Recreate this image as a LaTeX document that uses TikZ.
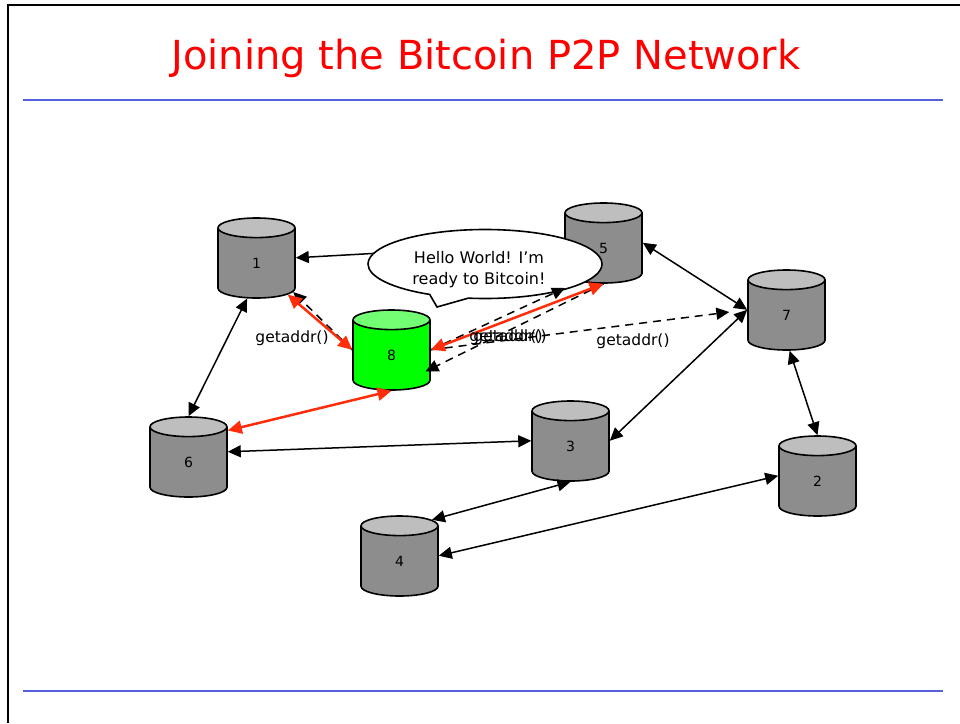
\documentclass[tikz,border=0pt]{standalone}
\usepackage{fontspec}
\setmainfont{DejaVu Sans}
\usetikzlibrary{shapes.geometric,shapes.callouts,arrows.meta}
\definecolor{rulegray}{RGB}{141,141,141}
\definecolor{rulelight}{RGB}{190,190,190}
\definecolor{slideblue}{RGB}{85,96,220}
\definecolor{linkred}{RGB}{255,45,10}
\tikzstyle{disk}=[cylinder,anchor=shape center,shape border rotate=90,shape aspect=2.2,draw=black,line width=1.6pt,minimum width=77pt,minimum height=80pt,inner sep=0pt,cylinder uses custom fill,cylinder body fill=rulegray,cylinder end fill=rulelight,font=\fontsize{14}{16}\selectfont]
\tikzstyle{newdisk}=[disk,cylinder body fill=green,cylinder end fill=green!55!white]
\tikzstyle{link}=[{Triangle[length=13pt,width=12pt]}-{Triangle[length=13pt,width=12pt]},line width=1.5pt]
\tikzstyle{redlink}=[draw=linkred,line width=2.5pt,{Triangle[length=14pt,width=13pt]}-{Triangle[length=14pt,width=13pt]},color=linkred]
\tikzstyle{asklink}=[-{Triangle[length=13pt,width=12pt]},line width=1.5pt,dash pattern=on 8pt off 6pt]
\tikzstyle{asktext}=[font=\fontsize{15.5}{18}\selectfont,inner sep=0pt]

\begin{document}
\begin{tikzpicture}[x=1pt,y=-1pt]
\useasboundingbox (0, 0) rectangle (960, 723);
\draw[line width=2pt] (8, 723) -- (8, 5) -- (960, 5);
\node[red,font=\fontsize{40}{44}\selectfont,inner sep=0pt] (title) at (486, 58) {Joining the Bitcoin P2P Network};
\draw[slideblue,line width=1.5pt] (23, 100) -- (943, 100);
\draw[slideblue,line width=1.5pt] (23, 691) -- (943, 691);

\node[disk] (n1) at (256.5, 258) {1};
\node[disk] (n2) at (817.5, 476) {2};
\node[disk] (n3) at (570.5, 441) {3};
\node[disk] (n4) at (399.5, 556) {4};
\node[disk] (n5) at (603.5, 243) {5};
\node[disk] (n6) at (188.5, 457) {6};
\node[disk] (n7) at (786.5, 310) {7};
\node[newdisk] (n8) at (391.5, 350) {8};
\coordinate (tip5) at (565, 288);

\draw[-{Triangle[length=13pt,width=12pt]},line width=1.5pt] (n5.172) -- (n1.8);
\draw[link] (n1.255) -- (n6.north);
\draw[link] (n5.8) -- (n7.172);
\draw[link] (n7.172) -- (n3.8);
\draw[link] (n7.275) -- (n2.north);
\draw[link] (n6.15) -- (n3.172);
\draw[link] (n3.south) -- (n4.52);
\draw[link] (n4.8) -- (n2.172);

\node[ellipse callout,draw=black,fill=white,line width=1.6pt,minimum width=234pt,minimum height=69pt,inner sep=0pt,align=center,callout absolute pointer={(437, 307)},callout pointer arc=20,font=\fontsize{16}{21}\selectfont] (hello) at (485, 264) {\rule{0pt}{23pt}\hspace*{-12pt}Hello World! I'm\\\hspace*{-12pt}ready to Bitcoin!};

\draw[asklink] (n8.172) -- (n1.322);
\draw[asklink] (n8.8) -- (tip5);
\draw[asklink,shorten >=-6pt] (n5.south) -- (n8.341);
\draw[asklink,shorten >=18pt] (n8.8) -- (n7.172);

\draw[redlink] (n6.39) -- (n8.south);
\draw[redlink] (n1.315) -- (n8.172);
\draw[redlink] (n8.8) -- (n5.south);

\node[asktext] (ask1) at (292, 338) {getaddr()};
\node[asktext] (ask2) at (506, 337) {getaddr()};
\node[asktext] (ask3) at (510, 337) {getaddr()};
\node[asktext] (ask4) at (633, 341) {getaddr()};
\end{tikzpicture}
\end{document}
